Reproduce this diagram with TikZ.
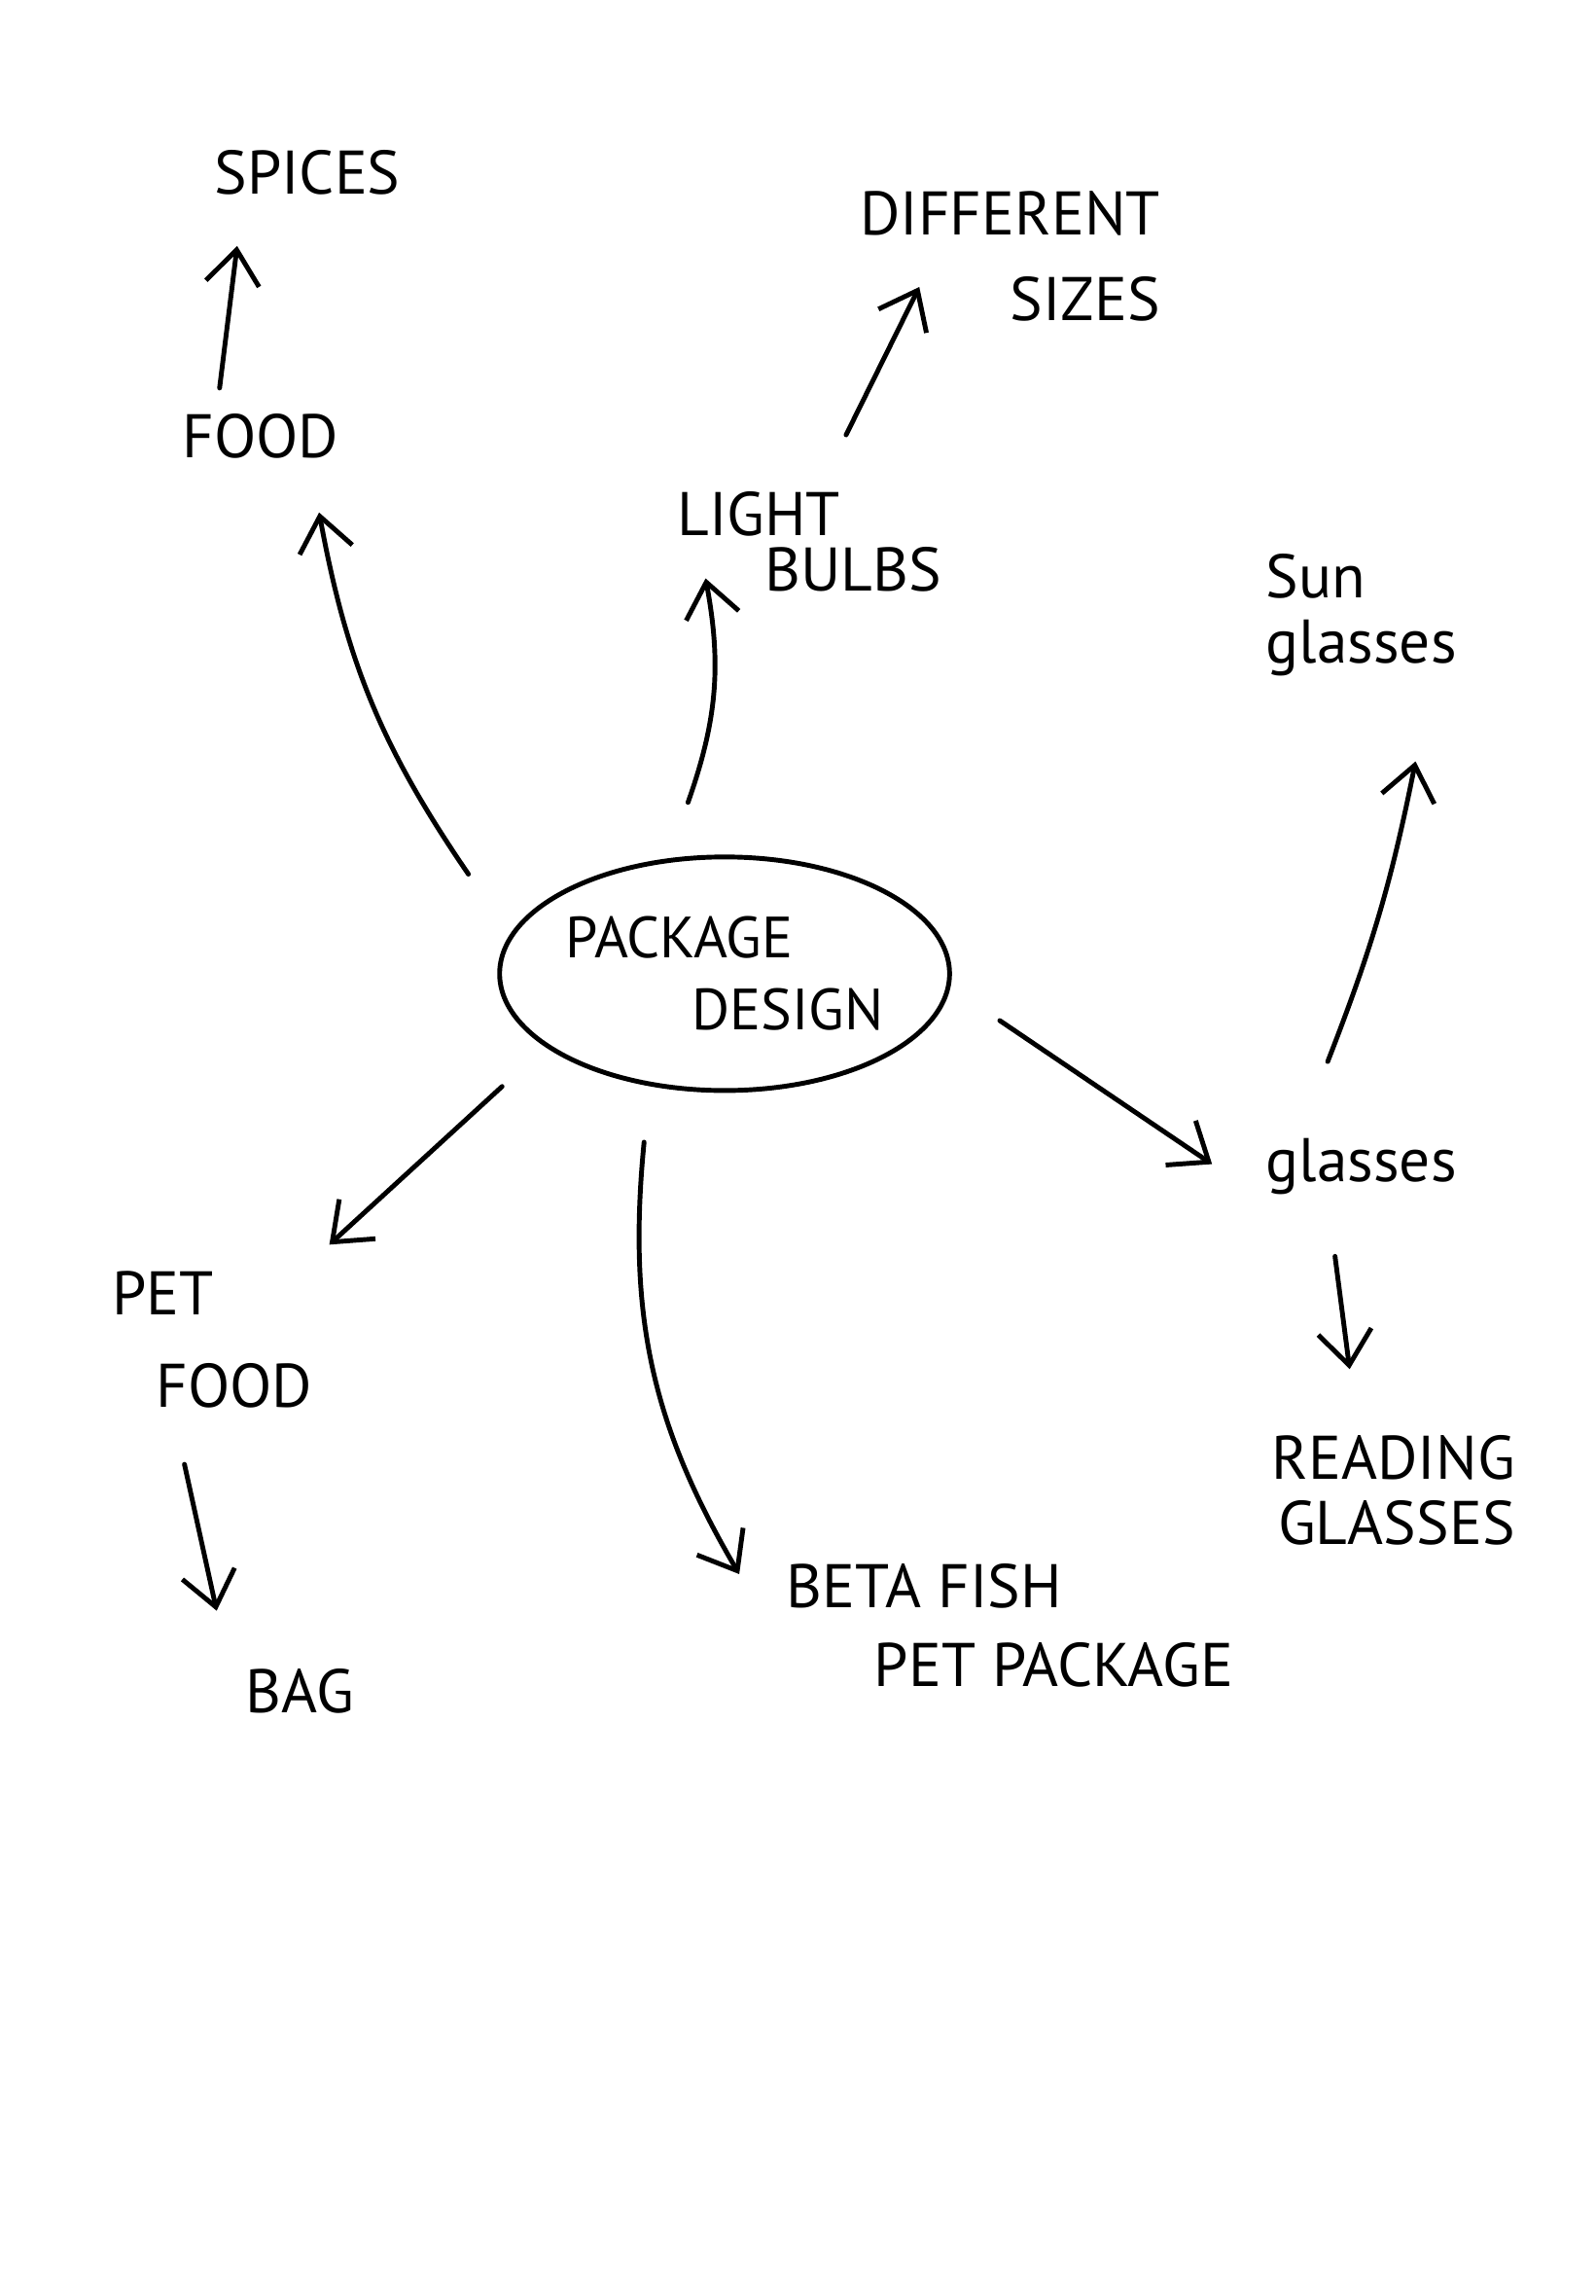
\documentclass[tikz,border=0pt]{standalone}
\usepackage{fontspec}
\setmainfont{PT Sans}
\usetikzlibrary{arrows.meta,shapes.geometric}

\begin{document}
\begin{tikzpicture}[x=0.015046cm,y=0.015046cm,
word/.style={font=\fontsize{18}{24}\selectfont,inner sep=2pt},
hub/.style={ellipse,draw,line width=1.4pt,inner sep=0pt,minimum width=4.6cm,minimum height=2.4cm,align=left,font=\fontsize{17}{21}\selectfont},
arrow/.style={-{Straight Barb[length=3.5mm,width=5.5mm]},line width=1.4pt,line cap=round}]
\useasboundingbox (0,0) rectangle (1090,1568);
% centre
\node[hub](pkg) at (495,903){PACKAGE\\\hspace{1.3cm}DESIGN};
% top left
\node[word](spices) at (210,1450){SPICES};
\node[word](food) at (178,1270){FOOD};
% top middle
\node[word,align=left,font=\fontsize{18}{16}\selectfont](bulbs) at (553,1198){LIGHT\\\hspace{0.9cm}BULBS};
\node[word,align=right,font=\fontsize{18}{25}\selectfont](sizes) at (690,1393){DIFFERENT\\SIZES};
% right
\node[word,align=left,font=\fontsize{18}{19}\selectfont](sun) at (930,1148){Sun\\glasses};
\node[word](glasses) at (930,771){glasses};
\node[word,align=right,font=\fontsize{18}{19}\selectfont](reading) at (952,550){READING\\GLASSES};
% bottom
\node[word,align=left,font=\fontsize{18}{27}\selectfont](petfood) at (145,653){PET\\\hspace{0.45cm}FOOD};
\node[word](bag) at (205,413){BAG};
\node[word,align=left,font=\fontsize{18}{23}\selectfont](beta) at (690,458){BETA FISH\\\hspace{0.9cm}PET PACKAGE};
% connectors
\draw[arrow]([shift={(-175,68)}]pkg.center) to[bend left=12] ([shift={(40,-52)}]food.center);
\draw[arrow]([shift={(-28,33)}]food.center) -- ([shift={(-48,-50)}]spices.center);
\draw[arrow]([shift={(-25,117)}]pkg.center) to[bend right=15] ([shift={(-71,-25)}]bulbs.center);
\draw[arrow]([shift={(25,73)}]bulbs.center) -- ([shift={(-62,-21)}]sizes.center);
\draw[arrow]([shift={(188,-32)}]pkg.center) -- ([shift={(-102,2)}]glasses.center);
\draw[arrow]([shift={(-23,72)}]glasses.center) to[bend right=5] ([shift={(37,-100)}]sun.center);
\draw[arrow]([shift={(-18,-61)}]glasses.center) -- ([shift={(-30,83)}]reading.center);
\draw[arrow]([shift={(-152,-77)}]pkg.center) -- ([shift={(80,65)}]petfood.center);
\draw[arrow]([shift={(-19,-85)}]petfood.center) -- ([shift={(-57,55)}]bag.center);
\draw[arrow]([shift={(-55,-115)}]pkg.center) to[bend right=18] ([shift={(-185,35)}]beta.center);
\end{tikzpicture}
\end{document}
